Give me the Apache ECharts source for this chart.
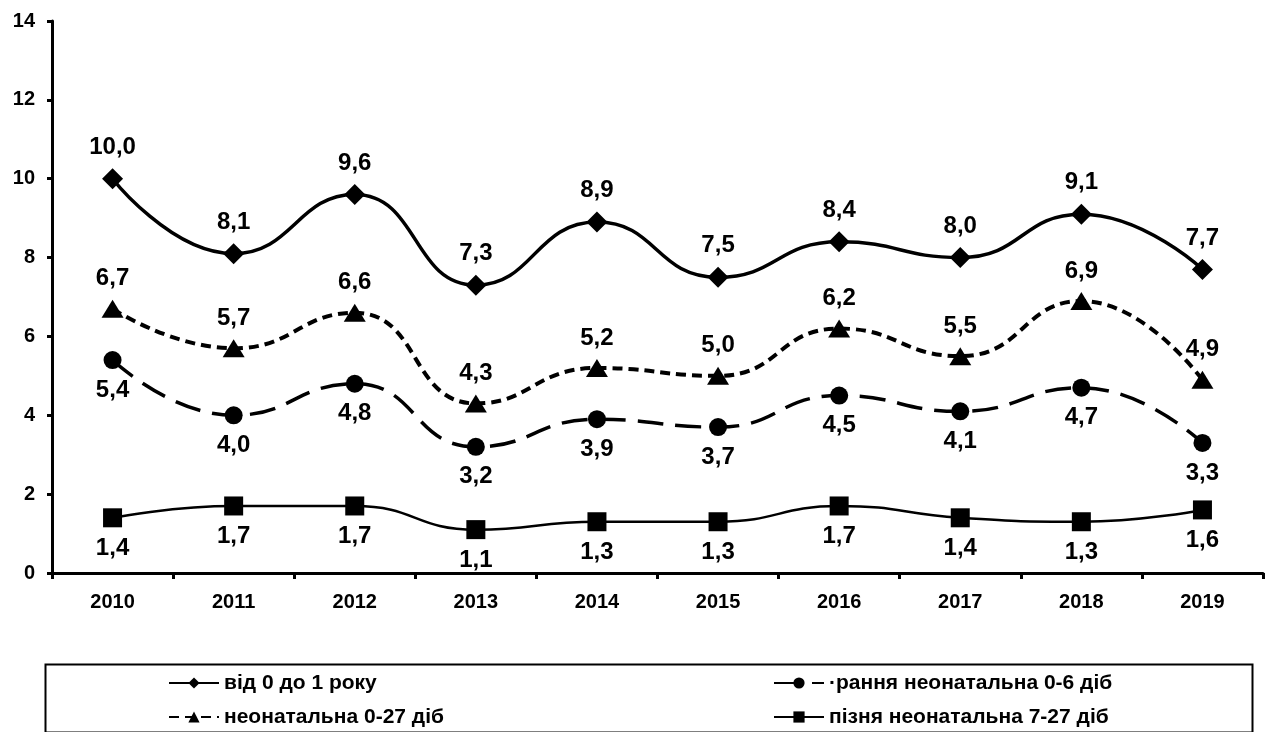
<!DOCTYPE html>
<html lang="uk">
<head>
    <meta charset="UTF-8">
    <title>Смертність</title>
    <script src="https://cdn.jsdelivr.net/npm/echarts@6/dist/echarts.min.js"></script>
    <style>
        html, body { margin: 0; padding: 0; background: #fff; }
        #chart { width: 1266px; height: 732px; }
    </style>
</head>
<body>
<div id="chart"></div>
<script>
    const years = ['2010', '2011', '2012', '2013', '2014', '2015', '2016', '2017', '2018', '2019'];
    const infant = [10.0, 8.1, 9.6, 7.3, 8.9, 7.5, 8.4, 8.0, 9.1, 7.7];
    const earlyNeo = [5.4, 4.0, 4.8, 3.2, 3.9, 3.7, 4.5, 4.1, 4.7, 3.3];
    const neonatal = [6.7, 5.7, 6.6, 4.3, 5.2, 5.0, 6.2, 5.5, 6.9, 4.9];
    const lateNeo = [1.4, 1.7, 1.7, 1.1, 1.3, 1.3, 1.7, 1.4, 1.3, 1.6];
    const names = ['від 0 до 1 року', '·рання неонатальна 0-6 діб', 'неонатальна 0-27 діб', 'пізня неонатальна 7-27 діб'];

    const font = 'Liberation Sans, Arial, sans-serif';
    const fmt = p => p.value.toFixed(1).replace('.', ',');
    const lbl = (pos) => ({
        show: true, position: pos, distance: 9, formatter: fmt,
        color: '#000', fontFamily: font, fontWeight: 'bold', fontSize: 24
    });

    const chart = echarts.init(document.getElementById('chart'));
    const legendText = { color: '#000', fontFamily: font, fontWeight: 'bold', fontSize: 21, lineHeight: 24 };

    chart.setOption({
        animation: false,
        backgroundColor: '#fff',
        grid: { left: 52, right: 3, top: 21, bottom: 159 },
        graphic: [{
            type: 'rect', left: 43, top: 662,
            shape: { width: 1207, height: 68 },
            style: { fill: 'none', stroke: '#000', lineWidth: 2 }
        }],
        legend: [
            { data: [names[0], names[2]], orient: 'vertical', left: 168, top: 671, padding: 0, itemGap: 10, itemWidth: 50, itemHeight: 14, textStyle: legendText },
            { data: [names[1], names[3]], orient: 'vertical', left: 773, top: 671, padding: 0, itemGap: 10, itemWidth: 50, itemHeight: 14, textStyle: legendText }
        ],
        xAxis: {
            type: 'category', data: years, boundaryGap: true,
            axisLine: { lineStyle: { color: '#000', width: 3 } },
            axisTick: { show: true, length: 6, lineStyle: { color: '#000', width: 3 } },
            axisLabel: { color: '#000', fontFamily: font, fontWeight: 'bold', fontSize: 20, margin: 19 }
        },
        yAxis: {
            type: 'value', min: 0, max: 14, interval: 2,
            splitLine: { show: false },
            axisLine: { show: true, lineStyle: { color: '#000', width: 3 } },
            axisTick: { show: true, length: 5, lineStyle: { color: '#000', width: 3 } },
            axisLabel: { color: '#000', fontFamily: font, fontWeight: 'bold', fontSize: 20, margin: 17 }
        },
        series: [
            {
                name: names[0], type: 'line', data: infant, smooth: 0.5,
                symbol: 'diamond', symbolSize: 21,
                itemStyle: { color: '#000' },
                lineStyle: { color: '#000', width: 3.5 },
                label: lbl('top')
            },
            {
                name: names[1], type: 'line', data: earlyNeo, smooth: 0.5,
                symbol: 'circle', symbolSize: 18,
                itemStyle: { color: '#000' },
                lineStyle: { color: '#000', width: 3.5, type: [26, 12] },
                label: lbl('bottom')
            },
            {
                name: names[2], type: 'line', data: neonatal, smooth: 0.5,
                symbol: 'triangle', symbolSize: [22, 18],
                itemStyle: { color: '#000' },
                lineStyle: { color: '#000', width: 4, type: [10, 6] },
                label: lbl('top')
            },
            {
                name: names[3], type: 'line', data: lateNeo, smooth: 0.5,
                symbol: 'rect', symbolSize: 19,
                itemStyle: { color: '#000' },
                lineStyle: { color: '#000', width: 2.5 },
                label: lbl('bottom')
            }
        ]
    });
</script>
</body>
</html>
